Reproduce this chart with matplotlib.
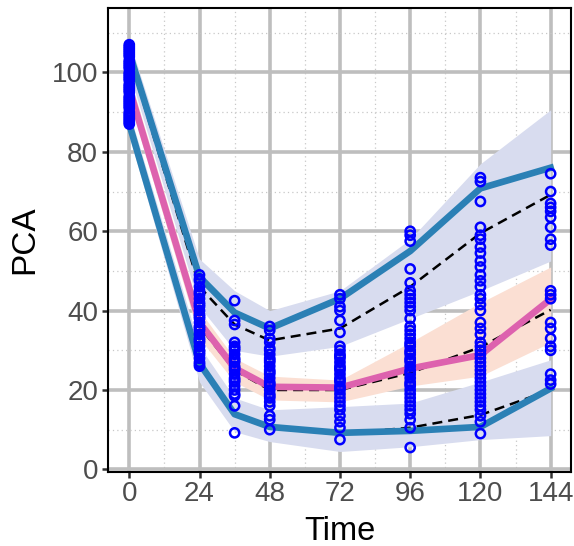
import numpy as np
import matplotlib
matplotlib.use("Agg")
import matplotlib.pyplot as plt

plt.rcParams['font.family'] = ['Liberation Sans', 'DejaVu Sans']

# binned times and observed percentiles
bin_time = [0, 24, 36, 48, 72, 96, 120, 144]
obs_hi = [105, 48.5, 39.5, 35.5, 43, 55, 70.8, 76]
obs_med = [96, 37, 25.5, 20.8, 20.6, 25.4, 28.8, 42.9]
obs_lo = [87, 26.7, 13.9, 10.7, 9.2, 9.7, 10.7, 20.4]

# simulated percentile medians
sim_hi = [104, 46, 36.5, 32.5, 35.5, 46, 59.5, 69.2]
sim_med = [96, 36, 25, 20, 20, 24.3, 30.8, 40.2]
sim_lo = [87, 27, 14, 10.5, 9, 10.5, 13.7, 20]

# prediction intervals of simulated percentiles
hi_band_lo = [100, 41, 30, 28.5, 31, 38, 45, 52.5]
hi_band_hi = [108, 53, 45, 40, 45, 58, 77, 90.6]
med_band_lo = [93, 33, 22, 17.5, 17, 21, 23.5, 32]
med_band_hi = [99, 40, 28, 23.5, 22.5, 32, 42, 51]
lo_band_lo = [84, 22, 9.5, 7, 4.5, 5.7, 7.5, 8.5]
lo_band_hi = [90, 31, 18, 15, 15.8, 16.7, 22, 27.6]

# observed PCA per sampling time
obs_t0 = [107, 106.5, 106, 105.5, 105, 104.5, 104, 103, 102.5, 102, 101.5, 101, 100,
          99.5, 99, 98.5, 98, 97, 96.5, 96, 95.5, 95, 94, 93.5, 93, 92.5, 92, 91.5,
          91, 90, 89.5, 89, 88.5, 88, 87.5, 87]
obs_t24 = [49, 48, 47.5, 46, 45, 44.5, 44, 43, 42, 41.5, 41, 40, 39, 38.5, 38, 37,
           36, 35.5, 35, 34, 33, 32.5, 32, 31, 30, 29.5, 29, 28, 27, 26.5, 26]
obs_t36 = [42.5, 37.5, 36.5, 32, 31, 30.5, 30, 29, 28, 27.5, 27, 26, 25.5, 25, 24,
           23, 22.5, 22, 21, 20, 19, 18.5, 16, 9.2]
obs_t48 = [36, 35, 33, 32, 30.5, 30, 29, 28, 27.5, 27, 26, 25, 24.5, 24, 23, 22,
           21.5, 21, 20, 19, 18.5, 18, 17, 16, 13.5, 12.5, 10]
obs_t72 = [44, 43, 41, 40, 37.5, 34.5, 31, 30, 29, 28.5, 28, 27, 26, 25.5, 25, 24,
           23, 22.5, 22, 21, 20.5, 20, 19, 18, 17, 16, 15, 13.5, 12, 10.5, 7.5]
obs_t96 = [60, 59, 57.5, 50.5, 47, 45, 44, 43, 42, 41, 40, 38, 36, 35, 34, 33, 32,
           31.5, 31, 30, 29.5, 29, 28, 27.5, 27, 26, 25, 24.5, 24, 23, 22, 21.5, 21,
           20, 19, 18, 17, 16, 15, 14, 12.5, 10.5, 5.5]
obs_t120 = [73.5, 72.5, 67.5, 61, 59, 58, 56, 54.5, 52.5, 51, 49, 47.5, 46, 44, 43,
            41.5, 40, 37, 35.5, 34, 32, 31, 30, 29, 28, 27, 26, 25, 24, 23, 22, 21,
            20, 19, 18, 17, 16, 15, 13.5, 12, 9]
obs_t144 = [74.5, 70, 67, 66, 65, 63.5, 61, 58, 56.5, 45, 44, 43, 37, 35.5, 33, 31,
            30, 24, 22.5, 21.5]

obs_by_time = [obs_t0, obs_t24, obs_t36, obs_t48, obs_t72, obs_t96, obs_t120, obs_t144]

x_ticks = [0, 24, 48, 72, 96, 120, 144]
y_ticks = [0, 20, 40, 60, 80, 100]

fig = plt.figure(figsize=(5.74, 5.46), dpi=100)
ax = fig.add_axes([0.188, 0.136, 0.807, 0.849])

band_blue = '#d8dcef'
band_pink = '#fbdfd3'
ax.fill_between(bin_time, hi_band_lo, hi_band_hi, color=band_blue, lw=0, zorder=1)
ax.fill_between(bin_time, lo_band_lo, lo_band_hi, color=band_blue, lw=0, zorder=1)
ax.fill_between(bin_time, med_band_lo, med_band_hi, color=band_pink, lw=0, zorder=1.1)

for sim in (sim_hi, sim_med, sim_lo):
    ax.plot(bin_time, sim, color='black', lw=1.8, ls=(0, (4, 2.4)), zorder=2)

line_blue = '#2b80b5'
ax.plot(bin_time, obs_hi, color=line_blue, lw=4.8, solid_joinstyle='round', zorder=3)
ax.plot(bin_time, obs_lo, color=line_blue, lw=4.8, solid_joinstyle='round', zorder=3)
ax.plot(bin_time, obs_med, color='#dd62ae', lw=4.8, solid_joinstyle='round', zorder=3)

for t, vals in zip(bin_time, obs_by_time):
    ax.scatter([t] * len(vals), vals, s=44, facecolors='none', edgecolors='#0000ff',
               linewidths=1.8, zorder=4)

ax.set_xlim(-7.3, 151)
ax.set_ylim(-0.6, 116.2)
ax.set_xticks(x_ticks)
ax.set_yticks(y_ticks)
ax.set_xticks([12, 36, 60, 84, 108, 132], minor=True)
ax.set_yticks([10, 30, 50, 70, 90, 110], minor=True)
ax.grid(which='major', color='#bebebe', lw=2.6, zorder=0)
ax.grid(which='minor', color='#c8c8c8', lw=0.9, ls=(0, (1, 2.5)), zorder=0)
ax.set_axisbelow(True)
ax.tick_params(which='major', length=4, width=1.8, color='#333333',
               labelsize=20, labelcolor='#4d4d4d', pad=3)
ax.tick_params(which='minor', length=0)
for sp in ax.spines.values():
    sp.set_color('black')
    sp.set_linewidth(1.5)

ax.set_xlabel('Time', fontsize=23.5, color='black', labelpad=6)
ax.set_ylabel('PCA', fontsize=24, color='black', labelpad=8)

fig.savefig('out.png', dpi=100)
